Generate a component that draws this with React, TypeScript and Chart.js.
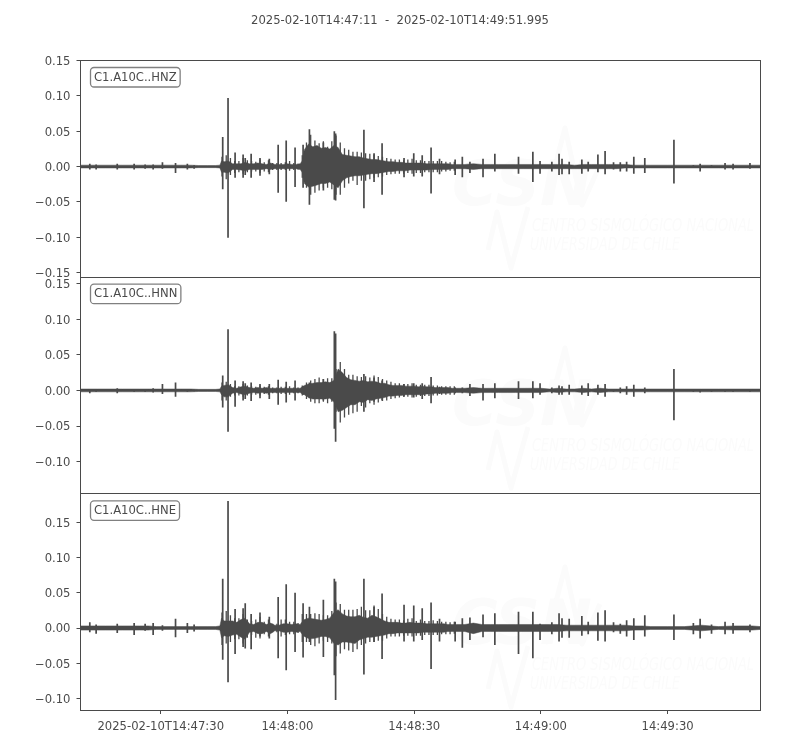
import React, { useEffect, useRef } from "react";
import { Chart, registerables } from "chart.js";

Chart.register(...registerables);

const titleText = "2025-02-10T14:47:11  -  2025-02-10T14:49:51.995";
const channels = ["C1.A10C..HNZ", "C1.A10C..HNN", "C1.A10C..HNE"];
const xTickValues = [30, 60, 90, 120, 150];
const xTickLabels = ["2025-02-10T14:47:30", "14:48:00", "14:48:30", "14:49:00", "14:49:30"];
const yTicksZ = [-0.15, -0.1, -0.05, 0, 0.05, 0.1, 0.15];
const yTicksN = [-0.1, -0.05, 0, 0.05, 0.1, 0.15];
const yTicksE = [-0.1, -0.05, 0, 0.05, 0.1, 0.15];
const yRangeZ = [-0.156, 0.151];
const yRangeN = [-0.1445, 0.1597];
const yRangeE = [-0.1163, 0.191];

// seconds after 14:47:00
const envT = [
  11, 13, 15, 17, 19, 21, 23, 25, 27, 29, 31, 33, 35, 37, 39, 41, 43,
  44, 44.4,
  45, 46, 47, 48, 49, 50, 51, 52, 53, 54, 55, 56, 57, 58, 59, 60, 61, 62, 63,
  63.5,
  64, 65, 66, 67, 68, 69, 70, 71, 72, 73, 74, 75, 76, 77, 78, 79, 80, 81, 82, 83, 84, 85, 86, 87, 88, 89, 90, 91, 92, 93, 94, 95, 96, 97, 98, 99, 100,
  102, 104, 106, 108, 110, 112, 114, 116, 118, 120, 122, 124, 126, 128, 130, 132, 134, 136, 138, 140, 142, 144, 146,
  150, 154, 158, 162, 166, 170, 172,
];
const envHiZ = [
  .002, .002, .002, .002, .002, .002, .002, .002, .002, .002, .002, .002, .002, .002, .0015, .0015, .0015,
  .002, .008,
  .007, .008, .004, .004, .004, .006, .004, .004, .005, .004, .003, .005, .003, .003, .003, .004, .003, .003, .004,
  .008,
  .024, .032, .028, .03, .026, .027, .025, .03, .027, .017, .016, .015, .014, .014, .012, .011, .01, .01, .009, .008, .007, .007, .006, .006, .005, .005, .005, .005, .005, .004, .004, .004, .004, .004, .004, .003, .003,
  .003, .004, .003, .003, .003, .003, .003, .003, .003, .003, .003, .003, .003, .002, .003, .003, .003, .003, .003, .003, .002, .002, .002,
  .002, .002, .002, .002, .002, .002, .002,
];
const envLoZ = [
  -.002, -.002, -.002, -.002, -.002, -.002, -.002, -.002, -.002, -.002, -.002, -.002, -.002, -.002, -.0015, -.0015, -.0015,
  -.002, -.008,
  -.008, -.009, -.004, -.004, -.005, -.006, -.004, -.004, -.004, -.004, -.003, -.004, -.003, -.003, -.003, -.003, -.003, -.003, -.004,
  -.008,
  -.024, -.029, -.028, -.026, -.024, -.024, -.022, -.026, -.03, -.02, -.016, -.014, -.013, -.013, -.012, -.011, -.01, -.01, -.009, -.008, -.007, -.007, -.006, -.006, -.006, -.005, -.005, -.005, -.005, -.005, -.004, -.004, -.004, -.004, -.004, -.003, -.003,
  -.003, -.004, -.003, -.003, -.003, -.003, -.003, -.003, -.003, -.003, -.003, -.003, -.003, -.003, -.003, -.003, -.003, -.003, -.003, -.002, -.002, -.002, -.002,
  -.002, -.002, -.002, -.002, -.002, -.002, -.002,
];
const envHiN = [
  .002, .002, .002, .002, .002, .002, .002, .002, .002, .002, .002, .002, .002, .002, .0015, .0015, .0015,
  .002, .006,
  .007, .008, .004, .003, .005, .006, .004, .003, .004, .003, .004, .003, .003, .003, .003, .003, .003, .003, .003,
  .005,
  .007, .009, .01, .011, .011, .012, .011, .014, .03, .025, .018, .015, .014, .013, .014, .012, .013, .012, .01, .01, .008, .007, .007, .007, .006, .006, .006, .005, .006, .005, .005, .004, .004, .004, .004, .003, .003,
  .003, .004, .003, .003, .003, .003, .003, .003, .003, .003, .002, .003, .002, .002, .003, .002, .003, .002, .002, .002, .002, .002, .002,
  .002, .002, .002, .002, .002, .002, .002,
];
const envLoN = [
  -.002, -.002, -.002, -.002, -.002, -.002, -.002, -.002, -.002, -.002, -.002, -.002, -.002, -.002, -.0015, -.0015, -.0015,
  -.002, -.006,
  -.009, -.009, -.004, -.003, -.005, -.006, -.004, -.003, -.004, -.003, -.004, -.003, -.003, -.003, -.003, -.003, -.003, -.003, -.003,
  -.005,
  -.006, -.01, -.012, -.012, -.012, -.012, -.011, -.016, -.03, -.028, -.024, -.02, -.02, -.016, -.017, -.013, -.014, -.012, -.011, -.01, -.008, -.008, -.007, -.007, -.006, -.006, -.006, -.006, -.006, -.005, -.005, -.004, -.004, -.004, -.004, -.003, -.003,
  -.003, -.004, -.003, -.003, -.003, -.003, -.003, -.003, -.003, -.003, -.002, -.003, -.002, -.002, -.003, -.002, -.003, -.002, -.002, -.002, -.002, -.002, -.002,
  -.002, -.002, -.002, -.002, -.002, -.002, -.002,
];
const envHiE = [
  .003, .003, .003, .003, .003, .003, .003, .003, .003, .002, .002, .002, .002, .002, .002, .002, .002,
  .003, .014,
  .01, .01, .01, .008, .012, .014, .006, .005, .008, .008, .005, .007, .004, .004, .006, .006, .005, .006, .005,
  .009,
  .012, .014, .013, .012, .011, .012, .014, .022, .026, .02, .017, .016, .016, .018, .015, .014, .018, .016, .013, .01, .008, .008, .008, .007, .007, .008, .007, .007, .007, .006, .006, .006, .006, .006, .005, .005, .005,
  .005, .007, .005, .005, .005, .005, .005, .005, .005, .005, .005, .005, .004, .004, .004, .004, .004, .004, .004, .004, .003, .003, .002,
  .002, .002, .004, .002, .003, .003, .002,
];
const envLoE = [
  -.003, -.003, -.003, -.003, -.003, -.003, -.003, -.003, -.003, -.002, -.002, -.002, -.002, -.002, -.002, -.002, -.002,
  -.003, -.014,
  -.011, -.012, -.01, -.009, -.013, -.016, -.006, -.005, -.008, -.008, -.005, -.008, -.004, -.004, -.006, -.006, -.005, -.006, -.005,
  -.009,
  -.012, -.015, -.015, -.014, -.012, -.012, -.014, -.022, -.024, -.02, -.02, -.021, -.022, -.017, -.015, -.013, -.013, -.012, -.011, -.01, -.008, -.008, -.007, -.007, -.007, -.007, -.007, -.007, -.006, -.006, -.006, -.006, -.006, -.006, -.005, -.005, -.005,
  -.005, -.008, -.005, -.005, -.005, -.005, -.005, -.005, -.005, -.005, -.005, -.005, -.004, -.004, -.004, -.004, -.004, -.004, -.004, -.004, -.003, -.003, -.002,
  -.002, -.002, -.004, -.002, -.003, -.003, -.002,
];

const codaT = [
  44.5, 45.5, 46.5, 47.5, 48.5, 49.5, 50.5, 51.5, 52.5, 53.5, 54.5, 55.5, 56.5, 57.5, 58.5, 59.5, 60.5, 61.5, 62.5, 63.5,
  64.5, 65.5, 66.5, 67.5, 68.5, 69.5, 70.5, 71.5, 72.5, 73.5, 74.5, 75.5, 76.5, 77.5, 78.5, 79.5, 80.5, 81.5, 82.5, 83.5,
  84.5, 85.5, 86.5, 87.5, 88.5, 89.5, 90.5, 91.5, 92.5, 93.5, 94.5, 95.5, 96.5, 97.5, 98.5, 99.5,
];
const codaHiZ = [
  .014, .016, .012, .008, .008, .012, .009, .008, .007, .01, .006, .009, .005, .005, .005, .006, .008, .005, .004, .016,
  .034, .045, .037, .033, .036, .028, .036, .044, .034, .026, .024, .021, .021, .02, .019, .018, .017, .015, .014, .012,
  .011, .01, .01, .009, .01, .011, .009, .009, .008, .008, .008, .008, .008, .007, .006, .007,
];
const codaLoZ = [
  -.014, -.018, -.012, -.009, -.008, -.01, -.008, -.007, -.007, -.009, -.007, -.008, -.005, -.005, -.005, -.005, -.006, -.005, -.004, -.016,
  -.03, -.04, -.037, -.034, -.03, -.03, -.032, -.04, -.04, -.03, -.024, -.02, -.026, -.02, -.02, -.018, -.016, -.015, -.014, -.012,
  -.011, -.01, -.01, -.01, -.009, -.01, -.009, -.009, -.008, -.008, -.008, -.008, -.007, -.007, -.006, -.006,
];
const codaHiN = [
  .011, .012, .009, .006, .006, .009, .007, .006, .005, .007, .005, .006, .004, .004, .005, .005, .006, .004, .004, .007,
  .011, .014, .016, .018, .016, .017, .017, .03, .04, .03, .022, .022, .02, .019, .02, .018, .021, .019, .016, .014,
  .012, .01, .01, .009, .009, .01, .008, .008, .008, .008, .007, .007, .006, .006, .006, .006,
];
const codaLoN = [
  -.014, -.014, -.009, -.007, -.007, -.009, -.007, -.006, -.006, -.007, -.005, -.006, -.004, -.004, -.005, -.005, -.006, -.004, -.004, -.007,
  -.012, -.016, -.018, -.018, -.016, -.018, -.016, -.03, -.045, -.038, -.034, -.032, -.03, -.022, -.024, -.018, -.02, -.017, -.015, -.014,
  -.012, -.011, -.01, -.009, -.009, -.01, -.009, -.008, -.008, -.008, -.007, -.007, -.006, -.006, -.006, -.006,
];
const codaHiE = [
  .022, .024, .018, .014, .014, .02, .012, .01, .012, .016, .009, .012, .006, .006, .012, .012, .009, .009, .007, .02,
  .02, .02, .021, .02, .018, .018, .024, .036, .034, .026, .026, .026, .027, .03, .025, .025, .032, .027, .02, .016,
  .013, .012, .012, .011, .013, .014, .01, .012, .01, .01, .011, .01, .009, .009, .008, .009,
];
const codaLoE = [
  -.024, -.022, -.02, -.016, -.016, -.022, -.014, -.01, -.014, -.015, -.009, -.012, -.006, -.006, -.012, -.01, -.009, -.009, -.007, -.02,
  -.02, -.024, -.026, -.022, -.018, -.02, -.022, -.04, -.036, -.03, -.032, -.034, -.03, -.024, -.022, -.02, -.02, -.018, -.018, -.015,
  -.012, -.012, -.012, -.011, -.011, -.012, -.011, -.011, -.01, -.01, -.01, -.01, -.009, -.009, -.009, -.008,
];

const spikeT = [
  13.2, 14.7, 19.7, 23.7, 26.3, 28.2, 30.4, 33.5, 36.3, 37.9,
  44.67, 45.93, 47.6, 49.5, 50, 51.4, 53.5, 55.7, 57.8, 59.7, 61.8, 63.7, 65.2, 68.5, 71.1, 71.4, 78.1, 80.5, 82.4,
  87.6, 89.9, 91.9, 94, 96, 99.7, 101.4, 103.2, 106.3, 109.1,
  114.7, 118.1, 119.8, 122.6, 124.3, 125, 126.7, 129.7, 131.2, 133.5,
  135.2, 137.2, 138.8, 140.3, 142, 144.6, 151.5, 156.1, 157.7, 160.4,
  163.6, 165.5, 169.5,
];
const spikeHiZ = [
  .004, .003, .004, .004, .003, .003, .006, .005, .004, .002,
  .042, .097, .02, .017, .012, .018, .012, .011, .031, .037, .027, .031, .053, .034, .05, .047, .052, .019, .033,
  .012, .019, .016, .027, .011, .01, .014, .007, .011, .018,
  .014, .021, .008, .007, .018, .011, .007, .01, .007, .017,
  .022, .006, .006, .007, .014, .012, .038, .002, .004, .002,
  .005, .004, .005,
];
const spikeLoZ = [
  -.004, -.004, -.004, -.004, -.003, -.004, -.003, -.009, -.004, -.003,
  -.032, -.101, -.016, -.016, -.012, -.016, -.013, -.011, -.037, -.05, -.029, -.03, -.054, -.034, -.047, -.048, -.059, -.022, -.04,
  -.015, -.014, -.014, -.038, -.011, -.012, -.015, -.009, -.015, -.007,
  -.01, -.022, -.01, -.007, -.012, -.011, -.011, -.01, -.007, -.008,
  -.011, -.004, -.007, -.007, -.01, -.009, -.024, -.002, -.007, -.002,
  -.004, -.004, -.003,
];
const spikeHiN = [
  .002, .002, .003, .002, .002, .003, .009, .011, .002, .001,
  .021, .086, .014, .013, .01, .011, .009, .009, .015, .012, .014, .006, .011, .016, .083, .08, .023, .018, .014,
  .009, .01, .01, .019, .005, .004, .004, .009, .009, .01,
  .013, .013, .01, .004, .007, .006, .008, .007, .01, .008,
  .009, .002, .004, .006, .008, .004, .03, .002, .002, .002,
  .002, .002, .002,
];
const spikeLoN = [
  -.004, -.002, -.004, -.002, -.002, -.003, -.005, -.009, -.002, -.001,
  -.024, -.058, -.023, -.014, -.012, -.015, -.011, -.012, -.02, -.017, -.014, -.006, -.011, -.014, -.054, -.072, -.03, -.016, -.014,
  -.009, -.01, -.012, -.018, -.005, -.004, -.004, -.008, -.014, -.011,
  -.012, -.011, -.006, -.004, -.006, -.006, -.006, -.006, -.008, -.006,
  -.009, -.002, -.004, -.006, -.009, -.004, -.042, -.002, -.003, -.002,
  -.002, -.002, -.002,
];
const spikeHiE = [
  .008, .005, .006, .007, .006, .007, .004, .013, .007, .005,
  .07, .18, .027, .028, .035, .02, .022, .016, .044, .062, .05, .035, .03, .04, .07, .066, .07, .03, .049,
  .033, .032, .028, .036, .013, .009, .014, .015, .019, .021,
  .023, .023, .006, .008, .021, .014, .013, .017, .009, .022,
  .025, .008, .006, .011, .014, .018, .019, .007, .013, .005,
  .009, .007, .005,
];
const spikeLoE = [
  -.006, -.008, -.007, -.01, -.004, -.01, -.004, -.013, -.007, -.005,
  -.045, -.077, -.037, -.027, -.029, -.03, -.012, -.015, -.043, -.06, -.034, -.042, -.02, -.041, -.067, -.102, -.066, -.02, -.044,
  -.019, -.019, -.017, -.058, -.019, -.019, -.028, -.017, -.013, -.024,
  -.037, -.043, -.017, -.009, -.019, -.014, -.014, -.011, -.009, -.018,
  -.019, -.006, -.008, -.012, -.017, -.012, -.017, -.009, -.015, -.008,
  -.009, -.008, -.006,
];

const INK = "#4a4a4a";
const FONT = "'DejaVu Sans'";
const FONT_SIZE = 11.6;

function envelope(values: number[]) {
  return values.map((y, i) => ({ x: envT[i], y }));
}
function spikes(times: number[], hi: number[], lo: number[]) {
  const pts: { x: number; y: number }[] = [];
  times.forEach((t, i) => {
    pts.push({ x: t, y: hi[i] }, { x: t, y: lo[i] }, { x: t, y: NaN });
  });
  return pts;
}
function trace(axis: string, hi: number[], lo: number[], cHi: number[], cLo: number[], sHi: number[], sLo: number[]) {
  const base = { yAxisID: axis, pointRadius: 0, borderColor: INK, tension: 0, spanGaps: false };
  return [
    { ...base, data: envelope(hi), borderWidth: 0.5, backgroundColor: INK, fill: "+1" },
    { ...base, data: envelope(lo), borderWidth: 0.5, fill: false },
    { ...base, data: spikes(codaT, cHi, cLo), borderWidth: 1.3, fill: false },
    { ...base, data: spikes(spikeT, sHi, sLo), borderWidth: 1.7, fill: false },
  ];
}
function yAxis(range: number[], ticks: number[], weight: number) {
  return {
    type: "linear",
    position: "left",
    stack: "panels",
    stackWeight: 1,
    weight,
    min: range[0],
    max: range[1],
    afterFit: (s: any) => { s.width = 80.5; },
    afterBuildTicks: (s: any) => { s.ticks = ticks.map((value) => ({ value })); },
    border: { display: true, color: INK, width: 1 },
    grid: { drawOnChartArea: false, color: INK, tickLength: 4, tickWidth: 1 },
    ticks: {
      autoSkip: false,
      color: INK,
      padding: 6,
      font: { family: FONT, size: FONT_SIZE, lineHeight: 0.25 },
      callback: (v: number) => ["", v.toFixed(2).replace("-", "\u2212")],
    },
  };
}

const panelFrames = {
  id: "panelFrames",
  beforeDatasetsDraw(chart: any) {
    const { ctx } = chart;
    [0, 220, 439].forEach((dy) => {
      ctx.save();
      ctx.fillStyle = "#fbfbfb";
      ctx.strokeStyle = "#fbfbfb";
      ctx.font = `italic bold 62px ${FONT}`;
      ctx.textBaseline = "alphabetic";
      ctx.fillText("CSN", 452, 205 + dy);
      ctx.font = `italic 17.5px ${FONT}`;
      ctx.fillText("CENTRO SISMOLÓGICO NACIONAL", 532, 231 + dy, 222);
      ctx.fillText("UNIVERSIDAD DE CHILE", 530, 250 + dy, 150);
      ctx.lineWidth = 5;
      ctx.lineJoin = "round";
      ctx.beginPath();
      ctx.moveTo(528, 207 + dy); ctx.lineTo(511, 268 + dy); ctx.lineTo(497, 212 + dy); ctx.lineTo(488, 250 + dy);
      ctx.stroke();
      ctx.beginPath();
      ctx.moveTo(545, 205 + dy); ctx.lineTo(565, 128 + dy); ctx.lineTo(582, 205 + dy); ctx.lineTo(600, 165 + dy);
      ctx.stroke();
      ctx.restore();
    });
  },
  afterDatasetsDraw(chart: any) {
    const { ctx, chartArea } = chart;
    ctx.save();
    ctx.fillStyle = INK;
    ctx.font = `${FONT_SIZE}px ${FONT}`;
    ctx.textAlign = "center";
    ctx.textBaseline = "middle";
    ctx.fillText(titleText, 400, 20.5);
    ctx.restore();
    ["yZ", "yN", "yE"].forEach((id, i) => {
      const s = chart.scales[id];
      ctx.save();
      ctx.strokeStyle = INK;
      ctx.lineWidth = 1;
      const top = Math.round(s.top);
      ctx.strokeRect(chartArea.left, top + 0.5, chartArea.right - chartArea.left, Math.round(s.bottom) - top);
      // channel label box
      ctx.font = `${FONT_SIZE}px ${FONT}`;
      const w = ctx.measureText(channels[i]).width;
      const bx = chartArea.left + 10;
      const by = s.top + 7.5;
      ctx.fillStyle = "#ffffff";
      ctx.strokeStyle = "#808080";
      ctx.lineWidth = 1.3;
      ctx.beginPath();
      ctx.roundRect(bx, by, w + 7, 19.5, 3.5);
      ctx.fill();
      ctx.stroke();
      ctx.fillStyle = INK;
      ctx.textBaseline = "middle";
      ctx.fillText(channels[i], bx + 3.5, by + 10);
      ctx.restore();
    });
  },
};

export default function App() {
  const ref = useRef<HTMLCanvasElement | null>(null);
  useEffect(() => {
    const chart = new Chart(ref.current as HTMLCanvasElement, {
      type: "line",
      data: {
        datasets: [
          ...trace("yZ", envHiZ, envLoZ, codaHiZ, codaLoZ, spikeHiZ, spikeLoZ),
          ...trace("yN", envHiN, envLoN, codaHiN, codaLoN, spikeHiN, spikeLoN),
          ...trace("yE", envHiE, envLoE, codaHiE, codaLoE, spikeHiE, spikeLoE),
        ],
      } as any,
      options: {
        animation: false,
        responsive: false,
        devicePixelRatio: 1,
        layout: { padding: { left: 0, right: 39.5, top: 60, bottom: 0 } },
        plugins: {
          legend: { display: false },
          tooltip: { enabled: false },
          title: { display: false },
        },
        scales: {
          x: {
            type: "linear",
            position: "bottom",
            min: 11,
            max: 171.995,
            afterFit: (s: any) => { s.height = 40; },
            afterBuildTicks: (s: any) => { s.ticks = xTickValues.map((value) => ({ value })); },
            border: { display: true, color: INK },
            grid: { drawOnChartArea: false, color: INK, tickLength: 4 },
            ticks: {
              autoSkip: false,
              maxRotation: 0,
              color: INK,
              padding: 6,
              font: { family: FONT, size: FONT_SIZE },
              callback: (v: number) => xTickLabels[xTickValues.indexOf(v)],
            },
          },
          yZ: yAxis(yRangeZ, yTicksZ, 3),
          yN: yAxis(yRangeN, yTicksN, 2),
          yE: yAxis(yRangeE, yTicksE, 1),
        },
      } as any,
      plugins: [panelFrames],
    });
    return () => chart.destroy();
  }, []);
  return (
    <canvas
      ref={ref}
      width={800}
      height={750}
      style={{ position: "absolute", left: 0, top: 0, width: 800, height: 750 }}
    />
  );
}
